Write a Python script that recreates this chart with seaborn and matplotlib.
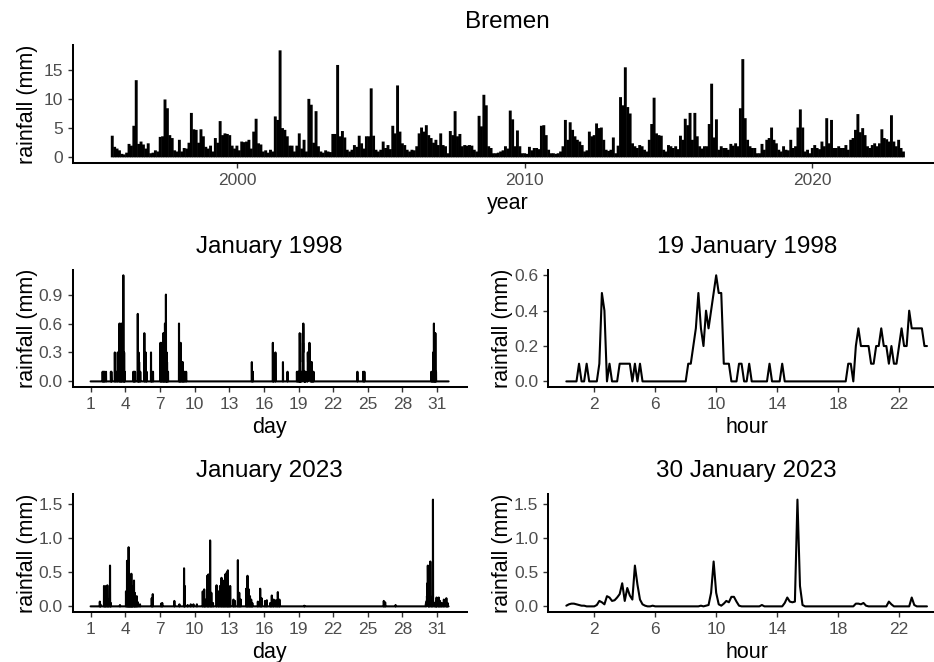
import numpy as np
import matplotlib
matplotlib.use("Agg")
import matplotlib.pyplot as plt
import seaborn as sns

# ---- overview: peak rainfall per month, Bremen, Sep 1995 .. Mar 2023 ----
top_start = 1995 + 8 / 12
top_mm = [
    3.7, 1.8, 1.5, 1.2, 0.6, 0.5, 0.8, 2.3, 2.0, 5.4, 13.2, 2.3,
    2.7, 2.2, 1.5, 2.4, 0.7, 0.8, 1.2, 1.0, 3.5, 3.6, 9.9, 8.4,
    3.8, 3.3, 1.2, 1.0, 3.0, 1.0, 1.6, 1.5, 2.5, 7.6, 4.8, 4.7,
    2.5, 4.8, 3.6, 1.8, 1.5, 2.0, 1.0, 3.3, 2.5, 6.2, 3.8, 4.1,
    4.0, 3.8, 2.0, 1.5, 2.0, 1.2, 2.7, 2.6, 2.7, 3.0, 1.5, 4.4,
    6.6, 2.4, 2.2, 1.0, 1.2, 0.8, 1.3, 1.0, 7.0, 6.4, 18.3, 5.0,
    4.7, 3.6, 2.0, 2.0, 1.0, 2.0, 4.1, 1.5, 3.0, 1.0, 10.0, 9.0,
    2.5, 7.9, 1.9, 1.0, 0.8, 1.2, 1.0, 0.9, 4.0, 4.0, 15.8, 3.6,
    4.5, 3.4, 1.3, 1.0, 1.3, 2.1, 1.8, 3.7, 2.4, 1.5, 3.6, 3.6,
    11.8, 3.7, 1.3, 1.0, 1.3, 2.7, 1.6, 2.1, 1.4, 5.4, 4.1, 12.3,
    4.4, 2.4, 2.1, 1.3, 1.0, 1.3, 1.2, 1.9, 4.1, 5.1, 4.4, 5.5,
    3.8, 3.3, 2.5, 3.0, 2.1, 4.1, 2.1, 1.9, 0.7, 4.5, 3.8, 7.9,
    3.6, 4.0, 1.9, 2.1, 2.0, 2.1, 2.0, 1.3, 1.0, 7.1, 5.3, 10.7,
    8.9, 1.9, 1.6, 0.7, 0.7, 0.8, 1.0, 1.2, 1.9, 1.5, 8.0, 6.5,
    1.9, 4.6, 1.9, 0.7, 0.7, 0.6, 1.8, 1.2, 1.6, 1.6, 1.4, 5.4,
    5.5, 3.8, 1.3, 0.7, 0.7, 0.6, 0.7, 1.0, 1.9, 6.4, 3.0, 6.0,
    4.7, 3.6, 3.0, 2.7, 2.1, 1.0, 1.2, 4.4, 3.6, 3.8, 5.8, 5.0,
    5.1, 3.0, 1.3, 1.1, 1.3, 3.4, 0.7, 2.0, 10.3, 8.9, 15.4, 8.6,
    7.5, 2.4, 1.9, 1.6, 2.1, 1.9, 1.3, 1.0, 3.0, 5.7, 10.2, 4.1,
    3.8, 3.7, 1.3, 1.0, 2.1, 1.9, 1.6, 1.9, 1.4, 3.7, 3.0, 6.6,
    5.5, 7.6, 3.0, 7.6, 3.6, 1.9, 1.5, 1.9, 1.9, 5.7, 12.6, 3.4,
    6.5, 1.3, 1.9, 1.6, 1.6, 1.3, 2.3, 2.0, 2.4, 1.9, 8.4, 16.8,
    6.7, 3.0, 1.9, 1.6, 1.6, 0.7, 0.7, 2.3, 1.3, 3.0, 3.3, 5.1,
    3.0, 2.4, 1.3, 1.0, 1.9, 1.3, 1.2, 3.0, 1.6, 1.9, 5.1, 8.2,
    5.1, 1.0, 1.3, 0.7, 1.6, 2.1, 1.6, 1.4, 2.7, 1.9, 6.7, 2.4,
    6.4, 1.6, 1.6, 1.9, 1.6, 1.6, 2.1, 1.3, 3.0, 3.3, 4.7, 7.4,
    4.3, 5.0, 3.8, 1.9, 1.6, 2.1, 2.4, 1.9, 2.4, 4.8, 3.3, 3.1,
    2.7, 7.2, 2.7, 1.9, 3.0, 1.6, 1.0,
]
top_year = top_start + np.arange(len(top_mm)) / 12

# ---- 10-minute values for the two single days (00:10 .. 23:50) ----
jan19_1998_mm = [
    0, 0, 0, 0, 0, .1, 0, 0, .1, 0, 0, 0,
    0, .1, .5, .4, 0, .1, 0, 0, 0, .1, .1, .1,
    .1, .1, 0, .1, 0, .1, 0, 0, 0, 0, 0, 0,
    0, 0, 0, 0, 0, 0, 0, 0, 0, 0, 0, 0,
    .1, .1, .2, .3, .5, .3, .2, .4, .3, .4, .5, .6,
    .5, .5, .1, .1, .1, 0, 0, 0, .1, .1, 0, 0,
    .1, 0, 0, 0, 0, 0, 0, 0, .1, 0, 0, 0,
    0, .1, 0, 0, 0, 0, 0, 0, 0, 0, 0, 0,
    0, 0, 0, 0, 0, 0, 0, 0, 0, 0, 0, 0,
    0, 0, 0, .1, .1, 0, .2, .3, .2, .2, .2, .2,
    .1, .1, .2, .2, .3, .2, .2, .1, .2, .1, .1, .2,
    .3, .2, .2, .4, .3, .3, .3, .3, .3, .2, .2,
]
jan30_2023_mm = [
    .01, .03, .04, .04, .03, .02, .01, .01, 0, 0, 0, 0,
    .02, .08, .06, .03, .15, .13, .08, .09, .13, .18, .34, .08,
    .27, .16, .10, .60, .32, .10, .03, .01, 0, 0, .01, 0,
    0, 0, 0, 0, 0, 0, 0, 0, 0, 0, 0, 0,
    0, 0, 0, 0, 0, .01, 0, .01, .02, .20, .66, .20,
    .03, .01, .04, .08, .06, .14, .14, .07, .01, 0, 0, 0,
    0, 0, 0, 0, 0, .02, 0, 0, 0, 0, 0, 0,
    0, 0, .05, .13, .07, .06, .07, 1.57, .30, .02, 0, 0,
    0, 0, 0, 0, 0, 0, 0, 0, 0, 0, 0, 0,
    0, 0, 0, 0, 0, 0, .04, .04, .03, .05, .01, 0,
    0, 0, 0, 0, 0, 0, 0, .07, .03, 0, 0, 0,
    0, 0, 0, 0, .13, .02, 0, 0, 0, 0, 0,
]

# ---- rain events in the rest of each month (day + fraction, mm) ----
jan1998_day = [2.04, 2.12, 2.2, 2.33, 2.76, 2.8, 3.1, 3.2, 3.35, 3.5, 3.58, 3.65,
               3.72, 3.83, 3.9, 3.95, 4.7, 4.78, 4.85, 5.08, 5.15, 5.2, 5.3, 5.65,
               5.77, 5.85, 6.23, 6.3, 6.4, 7.05, 7.12, 7.2, 7.3, 7.36, 7.44, 7.52,
               7.58, 7.62, 7.7, 8.65, 8.72, 8.8, 8.9, 8.98, 9.05, 9.15, 9.27, 14.96,
               15.05, 16.78, 16.85, 17.0, 17.65, 18.05, 18.86, 18.95, 20.08, 20.15,
               20.22, 20.3, 24.1, 24.6, 24.7, 30.5, 30.58, 30.65, 30.72, 30.78,
               30.85, 30.9]
jan1998_ev = [.1, .1, .1, .1, .1, .1, .3, .1, .3, .6, .4, .6,
              .5, 1.1, .3, .1, .1, .1, .1, .7, .3, .2, .1, .5,
              .3, .1, .3, .1, .1, .4, .4, .2, .5, .5, .6, .9,
              .3, .2, .1, .6, .3, .4, .2, .2, .1, .1, .1, .2,
              .1, .4, .1, .3, .2, .1, .1, .1, .2, .2,
              .1, .1, .1, .1, .1, .1, .1, .3, .6, .5,
              .5, .1]

jan2023_day = [1.8, 1.85, 2.16, 2.25, 2.33, 2.45, 2.55, 2.68, 2.75, 3.54, 4.06, 4.15,
               4.22, 4.29, 4.35, 4.41, 4.48, 4.53, 4.6, 4.65, 4.76, 4.82, 4.9, 4.99,
               5.1, 5.28, 6.29, 6.38, 7.1, 7.2, 8.25, 8.69, 9.09, 9.15, 9.4, 9.67,
               9.9, 10.2, 10.71, 10.83, 10.92, 11.1, 11.2, 11.35, 11.45, 11.6, 11.9,
               12.07, 12.2, 12.33, 12.45, 12.55, 12.65, 12.79, 12.88, 12.98, 13.08,
               13.37, 13.5, 13.75, 13.87, 14.0, 14.47, 14.58, 14.7, 14.8, 14.9, 15.0,
               15.48, 15.68, 15.8, 16.1, 16.26, 16.55, 16.69, 16.85, 17.05, 17.21,
               17.35, 19.5, 26.38, 26.5, 27.4, 31.14, 31.25, 31.4, 31.58, 31.8, 31.9]
jan2023_ev = [.07, .03, .3, .2, .3, .31, .1, .6, .05, .02, .22, .67,
              .4, .87, .3, .35, .2, .48, .3, .2, .38, .2, .1, .15,
              .06, .03, .12, .18, .04, .05, .08, .03, .56, .3, .02, .03,
              .03, .03, .22, .25, .1, .45, .47, .97, .2, .05, .31,
              .22, .3, .42, .38, .2, .47, .5, .53, .28, .3,
              .1, .08, .68, .2, .1, .26, .45, .25, .15, .1, .05,
              .07, .26, .12, .08, .09, .05, .16, .1, .09, .21,
              .1, .01, .08, .06, .02, .13, .08, .05, .1, .12, .05]

STEPS = 144  # 10-minute steps per day


def day_series(mm):
    hours = np.arange(1, len(mm) + 1) / 6
    return hours, np.array(mm, dtype=float)


def month_series(ev_day, ev_mm, day_no, day_mm):
    vals = np.zeros(31 * STEPS)
    idx = np.round((np.array(ev_day) - 1) * STEPS).astype(int)
    vals[idx] = ev_mm
    start = (day_no - 1) * STEPS
    vals[start + 1:start + 1 + len(day_mm)] = day_mm
    return 1 + np.arange(31 * STEPS) / STEPS, vals


sns.set_style("ticks")
plt.rcParams["font.family"] = ["Liberation Sans", "DejaVu Sans"]

W, H = 934, 662
fig = plt.figure(figsize=(W / 100, H / 100), dpi=100)


def panel(box):
    l, t, r, b = box
    return fig.add_axes([l / W, 1 - b / H, (r - l) / W, (b - t) / H])


def expand(lo, hi):
    pad = 0.05 * (hi - lo)
    return lo - pad, hi + pad


def finish(ax, box, xlabel, title, xticks, yticks, yfmt):
    l, t, r, b = box
    sns.despine(ax=ax)
    for s in ("left", "bottom"):
        ax.spines[s].set_linewidth(1.45)
        ax.spines[s].set_color("black")
    ax.set_xticks(xticks)
    ax.set_yticks(yticks)
    ax.set_yticklabels([yfmt.format(v) for v in yticks])
    ax.tick_params(length=3.9, width=1.0, color="#333333", labelcolor="#4D4D4D",
                   labelsize=12.5, pad=3.2)
    ax.set_xlabel(xlabel, fontsize=15.5, color="black", va="baseline")
    ax.xaxis.set_label_coords(0.5, -46.5 / (b - t))
    ax.set_ylabel("rainfall (mm)", fontsize=15.5, color="black", va="baseline")
    ax.yaxis.set_label_coords(-40.0 / (r - l), 0.5)
    ax.set_title(title, fontsize=17.5, color="black", pad=12.2)


# top: whole record
box_top = (72.7, 45, 943, 162.7)
ax = panel(box_top)
ax.vlines(top_year, 0, top_mm, colors="black", linewidth=2.1, snap=False)
ax.set_xlim(*expand(top_year[0], top_year[-1]))
ax.set_ylim(*expand(0, max(top_mm)))
finish(ax, box_top, "year", "Bremen", [2000, 2010, 2020], [0, 5, 10, 15], "{:.0f}")

day_ticks = list(range(1, 32, 3))
hour_ticks = [2, 6, 10, 14, 18, 22]

rows = [
    ("January 1998", "19 January 1998", jan1998_day, jan1998_ev, 19, jan19_1998_mm,
     270, 386.7, [0, 0.3, 0.6, 0.9], [0, 0.2, 0.4, 0.6]),
    ("January 2023", "30 January 2023", jan2023_day, jan2023_ev, 30, jan30_2023_mm,
     494.3, 611.7, [0, 0.5, 1.0, 1.5], [0, 0.5, 1.0, 1.5]),
]

for (mtitle, dtitle, ev_day, ev_mm, day_no, day_mm, top, bot, yt_m, yt_d) in rows:
    mx, my = month_series(ev_day, ev_mm, day_no, day_mm)
    box = (72.7, top, 466.5, bot)
    ax = panel(box)
    sns.lineplot(x=mx, y=my, ax=ax, color="black", linewidth=1.5,
                 estimator=None, sort=False)
    ax.set_xlim(*expand(1, mx[-1]))
    ax.set_ylim(*expand(0, my.max()))
    finish(ax, box, "day", mtitle, day_ticks, yt_m, "{:.1f}")

    hx, hy = day_series(day_mm)
    box = (548.3, top, 945, bot)
    ax = panel(box)
    sns.lineplot(x=hx, y=hy, ax=ax, color="black", linewidth=1.5,
                 estimator=None, sort=False)
    ax.set_xlim(*expand(hx[0], hx[-1]))
    ax.set_ylim(*expand(0, hy.max()))
    finish(ax, box, "hour", dtitle, hour_ticks, yt_d, "{:.1f}")

fig.savefig("out.png", dpi=100, facecolor="white")
